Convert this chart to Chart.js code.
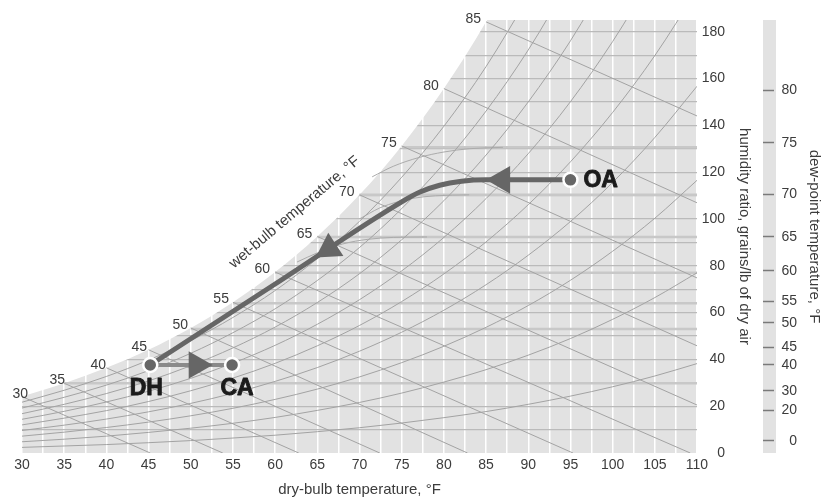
<!DOCTYPE html>
<html>
<head>
<meta charset="utf-8">
<script src="https://cdn.jsdelivr.net/npm/chart.js@4.4.1/dist/chart.umd.min.js"></script>
<style>
  html, body { margin: 0; padding: 0; background: #fff; }
  #wrap { width: 831px; height: 499px; position: relative; }
</style>
</head>
<body>
<div id="wrap"><canvas id="psy"></canvas></div>
<script>
// dry-bulb temperature, F
var dryBulb = [30, 35, 40, 45, 50, 55, 60, 65, 70, 75, 80, 85, 90, 95, 100, 105, 110];

// humidity ratio at saturation, grains/lb (edge of the grey field)
var saturation = [24.1, 29.8, 36.4, 44.1, 53.4, 64.4, 77.3, 92.5, 110.3, 131.2, 155.7, 184.2, 217.5];

// relative humidity curves, grains/lb at each dry-bulb value
var rh10 = [2.4, 3.0, 3.6, 4.4, 5.3, 6.4, 7.6, 9.1, 10.8, 12.8, 15.1, 17.7, 20.8, 24.3, 28.3, 32.9, 38.2];
var rh20 = [4.8, 5.9, 7.2, 8.8, 10.6, 12.7, 15.2, 18.2, 21.6, 25.6, 30.3, 35.6, 41.8, 48.9, 57.1, 66.4, 77.0];
var rh30 = [7.2, 8.9, 10.9, 13.2, 15.9, 19.1, 22.9, 27.3, 32.5, 38.6, 45.6, 53.7, 63.0, 73.8, 86.2, 100.3, 116.5];
var rh40 = [9.6, 11.9, 14.5, 17.6, 21.2, 25.5, 30.6, 36.5, 43.5, 51.6, 61.0, 71.9, 84.5, 98.9, 115.6, 134.8, 156.7];
var rh50 = [12.0, 14.9, 18.1, 22.0, 26.6, 32.0, 38.3, 45.8, 54.5, 64.7, 76.5, 90.2, 106.1, 124.4, 145.5, 169.8, 197.7];
var rh60 = [14.4, 17.8, 21.8, 26.4, 31.9, 38.4, 46.0, 55.0, 65.5, 77.8, 92.1, 108.7, 127.9, 150.1, 175.8, 205.3];
var rh70 = [16.8, 20.8, 25.4, 30.8, 37.3, 44.9, 53.8, 64.3, 76.6, 91.1, 107.8, 127.3, 150.0, 176.1, 206.5];
var rh80 = [19.2, 23.8, 29.0, 35.2, 42.6, 51.4, 61.6, 73.7, 87.8, 104.4, 123.7, 146.1, 172.2, 202.4];
var rh90 = [21.7, 26.8, 32.7, 39.7, 48.0, 57.9, 69.4, 83.1, 99.0, 117.8, 139.6, 165.1, 194.7];

// wet-bulb lines: start on saturation, end at the bottom or right edge
var wetBulb = [30, 35, 40, 45, 50, 55, 60, 65, 70, 75, 80, 85];
var wetBulbEndT = [45.2, 53.8, 62.8, 72.4, 82.8, 95.3, 109.2, 110, 110, 110, 110, 110];
var wetBulbEndW = [0, 0, 0, 0, 0, 0, 0, 20.5, 45.8, 74.8, 106.9, 144];

// dew-point scale (right strip) and the dew-point lines in the field
var dewTicks = [0, 20, 30, 40, 45, 50, 55, 60, 65, 70, 75, 80];
var dewTickW = [5.2, 18.1, 26.5, 37.6, 45.2, 55.6, 64.7, 77.9, 92.4, 110.6, 132.6, 155];
var dewLines = [35, 50, 55, 60, 65, 70, 75];
var dewLineW = [29.8, 53.0, 64.0, 77.0, 92.3, 110.3, 130.6];

// faint coil curves bending into the dew-point lines
var hook65T = [62.6, 65, 68, 71, 74, 78];
var hook65W = [81.6, 85.5, 89.3, 91.3, 92.1, 92.3];
var hook70T = [70, 72.4, 74.5, 76.3, 79, 83];
var hook70W = [100, 104.7, 107.3, 108.8, 109.9, 110.3];
var hook75T = [71.5, 74, 77, 80, 83, 87];
var hook75W = [118, 122.5, 126.2, 128.6, 130, 130.6];

// process: outdoor air -> dehumidified -> conditioned air
var pathT = [95, 85, 82.1, 79.5, 77.1, 75, 60, 45.2];
var pathW = [116.7, 116.7, 116.1, 114.4, 111.4, 107.3, 72.2, 37.6];
var reheatT = [45.2, 54.9];
var reheatW = [37.6, 37.6];
var stateNames = ['OA', 'DH', 'CA'];
var stateT = [95, 45.2, 54.9];
var stateW = [116.7, 37.6, 37.6];
var arrowT = [86.9, 66.4, 50.7];
var arrowW = [116.7, 87.3, 37.6];

var FONT = "'Liberation Sans', Arial, sans-serif";
var TXT = '#3c3c3c';
Chart.defaults.font.family = FONT;

function pts(xs, ys) {
  return ys.map(function(y, i) { return {x: xs[i], y: y}; });
}

function thin(data, color, width, order) {
  return {
    data: data, borderColor: color, borderWidth: width, pointRadius: 0,
    fill: false, cubicInterpolationMode: 'monotone', order: order
  };
}

// an axis that only carries a rotated title, to place it after the tick labels
function titleAxis(text, width, pad, weight) {
  return {
    axis: 'y', position: 'right', min: 0, max: 185, weight: weight,
    afterFit: function(s) { s.width = width; },
    ticks: { display: false },
    grid: { display: false },
    border: { display: false },
    title: { display: true, text: text, color: TXT, font: { size: 15 }, padding: { top: pad, bottom: 0 } }
  };
}

var datasets = [];

// states on top
datasets.push({
  data: pts(stateT, stateW), showLine: false, pointStyle: 'circle', pointRadius: 7,
  backgroundColor: '#666', borderColor: '#fff', borderWidth: 2.5, order: 0
});
datasets.push({
  data: pts(arrowT, arrowW), showLine: false, pointStyle: 'triangle', pointRadius: 16,
  rotation: [270, 237, 90], backgroundColor: '#666', borderWidth: 0, order: 1
});
datasets.push({
  data: pts(pathT, pathW), borderColor: '#666', borderWidth: 5, pointRadius: 0,
  cubicInterpolationMode: 'monotone', borderJoinStyle: 'round', fill: false, order: 2
});
datasets.push({
  data: pts(reheatT, reheatW), borderColor: '#8a8a8a', borderWidth: 4, pointRadius: 0,
  fill: false, order: 3
});

[rh10, rh20, rh30, rh40, rh50, rh60, rh70, rh80, rh90].forEach(function(c) {
  datasets.push(thin(pts(dryBulb, c), '#a3a3a3', 1, 10));
});

wetBulb.forEach(function(t, i) {
  datasets.push(thin([{x: t, y: saturation[i]}, {x: wetBulbEndT[i], y: wetBulbEndW[i]}], '#a3a3a3', 1, 10));
});

dewLines.forEach(function(t, i) {
  datasets.push(thin([{x: t, y: dewLineW[i]}, {x: 110, y: dewLineW[i]}], '#c8c8c8', 2.5, 12));
});

datasets.push(thin(pts(hook65T, hook65W), '#ababab', 1, 11));
datasets.push(thin(pts(hook70T, hook70W), '#ababab', 1, 11));
datasets.push(thin(pts(hook75T, hook75W), '#ababab', 1, 11));

// white above the saturation curve
datasets.push({
  data: pts(dryBulb, saturation), borderColor: 'rgba(0,0,0,0)', borderWidth: 0,
  pointRadius: 0, fill: 'end', backgroundColor: '#fff',
  cubicInterpolationMode: 'monotone', order: 20
});

var psyDecor = {
  id: 'psyDecor',
  beforeDraw: function(chart) {
    var a = chart.chartArea, c = chart.ctx, s2 = chart.scales.y2;
    c.save();
    c.fillStyle = '#e2e2e2';
    c.fillRect(a.left, a.top, a.right - a.left, a.bottom - a.top);
    c.fillRect(s2.left, a.top, 13, a.bottom - a.top);
    c.restore();
  },
  afterDatasetsDraw: function(chart) {
    var c = chart.ctx, xs = chart.scales.x, ys = chart.scales.y;
    c.save();

    // wet-bulb numbers along the saturation edge
    c.font = '14px ' + FONT;
    c.fillStyle = TXT;
    c.textAlign = 'right';
    c.textBaseline = 'alphabetic';
    wetBulb.forEach(function(t, i) {
      var px = xs.getPixelForValue(t);
      var py = Math.max(ys.getPixelForValue(saturation[i]), chart.chartArea.top);
      var dx = i === 0 ? 6 : Math.max(-5, 2 - 1.2 * i);
      c.fillText(String(t), px + dx, py + 1);
    });

    // rotated title of the wet-bulb scale
    c.save();
    c.translate(xs.getPixelForValue(62.3), ys.getPixelForValue(102.8));
    c.rotate(-40 * Math.PI / 180);
    c.font = '15px ' + FONT;
    c.textAlign = 'center';
    c.textBaseline = 'middle';
    c.fillText('wet-bulb temperature, °F', 0, 0);
    c.restore();

    // state labels, heavy
    c.font = 'bold 23px ' + FONT;
    c.fillStyle = '#1b1b1b';
    c.strokeStyle = '#1b1b1b';
    c.lineWidth = 0.9;
    c.lineJoin = 'round';
    c.textBaseline = 'middle';
    stateNames.forEach(function(n, i) {
      var px = xs.getPixelForValue(stateT[i]);
      var py = ys.getPixelForValue(stateW[i]);
      var tx, ty;
      if (n === 'OA') {
        c.textAlign = 'left';
        tx = px + 13; ty = py + 1;
      } else {
        c.textAlign = 'center';
        tx = px + (n === 'DH' ? -4 : 5); ty = py + 24;
      }
      c.fillText(n, tx, ty);
      c.strokeText(n, tx, ty);
    });
    c.restore();
  }
};

new Chart(document.getElementById('psy'), {
  type: 'line',
  data: { datasets: datasets },
  options: {
    responsive: true,
    maintainAspectRatio: false,
    animation: false,
    events: [],
    layout: { padding: { left: 22, top: 20, right: 0, bottom: 0 } },
    plugins: { legend: { display: false }, tooltip: { enabled: false } },
    scales: {
      x: {
        type: 'linear', min: 30, max: 110,
        afterFit: function(s) { s.height = 46; },
        ticks: {
          stepSize: 2.5, autoSkip: false, maxRotation: 0, padding: 4,
          color: TXT, font: { size: 14 },
          callback: function(v) { return v % 5 === 0 ? String(v) : ''; }
        },
        grid: { color: '#ffffff', lineWidth: 1.5, drawTicks: false },
        border: { display: false },
        title: {
          display: true, text: 'dry-bulb temperature, °F', color: TXT,
          font: { size: 15 }, padding: { top: 0, bottom: 0 }
        }
      },
      y: {
        position: 'right', min: 0, max: 185, weight: 0,
        afterFit: function(s) { s.width = 28; },
        ticks: {
          stepSize: 10, includeBounds: false, autoSkip: false, crossAlign: 'far', padding: 5,
          color: TXT, font: { size: 14 },
          callback: function(v) { return v % 20 === 0 ? String(v) : ''; }
        },
        grid: {
          drawTicks: false, lineWidth: 1.2,
          color: function(ctx) { return ctx.tick && ctx.tick.value === 0 ? 'rgba(0,0,0,0)' : '#bababa'; }
        },
        border: { display: false }
      },
      yTitle: titleAxis('humidity ratio, grains/lb of dry air', 38, 10, 1),
      y2: {
        position: 'right', min: 0, max: 185, weight: 2,
        afterFit: function(s) { s.width = 34; },
        afterBuildTicks: function(s) {
          s.ticks = dewTickW.map(function(v) { return {value: v}; });
        },
        ticks: {
          autoSkip: false, crossAlign: 'far', padding: 7, color: TXT, font: { size: 14 },
          callback: function(v, i) { return String(dewTicks[i]); }
        },
        grid: {
          drawOnChartArea: false, drawTicks: true, tickLength: 11,
          tickColor: '#7a7a7a', tickWidth: 1.5
        },
        border: { display: false }
      },
      y2Title: titleAxis('dew-point temperature, °F', 34, 8, 3)
    }
  },
  plugins: [psyDecor]
});
</script>
</body>
</html>
